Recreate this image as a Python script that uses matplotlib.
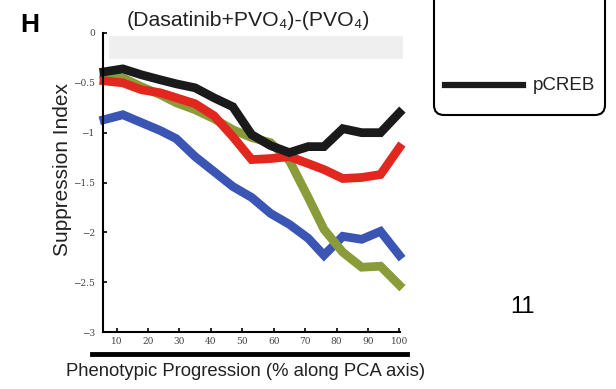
import numpy as np
import matplotlib.pyplot as plt
from matplotlib.lines import Line2D
from matplotlib.patches import FancyBboxPatch
from matplotlib.transforms import IdentityTransform

plt.rcParams['font.family'] = ['Liberation Sans', 'DejaVu Sans']

# positions along the PCA axis (%)
progress = [6, 12, 18, 24, 29, 35, 41, 47, 53, 59, 65, 71, 76, 82, 88, 94, 100]

# suppression index, one list per readout
blue = [-0.87, -0.82, -0.90, -0.98, -1.06, -1.24, -1.39, -1.54, -1.65,
        -1.81, -1.92, -2.06, -2.23, -2.04, -2.07, -1.99, -2.23]
green = [-0.42, -0.45, -0.54, -0.62, -0.70, -0.77, -0.86, -0.97, -1.05,
         -1.10, -1.28, -1.65, -1.97, -2.20, -2.35, -2.34, -2.53]
red = [-0.48, -0.50, -0.57, -0.60, -0.65, -0.71, -0.83, -1.04, -1.27,
       -1.26, -1.24, -1.31, -1.37, -1.46, -1.45, -1.42, -1.15]
black = [-0.39, -0.36, -0.42, -0.47, -0.51, -0.55, -0.65, -0.74, -1.02,
         -1.13, -1.20, -1.14, -1.14, -0.96, -1.00, -1.00, -0.80]

x_ticks = [10, 20, 30, 40, 50, 60, 70, 80, 90, 100]
y_ticks = [-3, -2.5, -2, -1.5, -1, -0.5, 0]
y_labels = ['\u22123', '\u22122.5', '\u22122', '\u22121.5', '\u22121', '\u22120.5', '0']

fig = plt.figure(figsize=(6.16, 3.89), dpi=100)
ax = fig.add_axes([103 / 616, 1 - 332 / 389, 297 / 616, 299 / 389])

# grey band near zero
ax.axhspan(-0.26, -0.035, xmin=0.02, xmax=1.01, color='#efefef', lw=0, clip_on=False)

ax.plot(progress, blue, color='#3b55b4', lw=6.3, solid_joinstyle='miter', clip_on=False)
ax.plot(progress, green, color='#8a9c3a', lw=6.3, solid_joinstyle='miter', clip_on=False)
ax.plot(progress, red, color='#e2271f', lw=6.3, solid_joinstyle='miter', clip_on=False)
ax.plot(progress, black, color='#1a1a1a', lw=6.3, solid_joinstyle='miter', clip_on=False)

ax.set_xlim(5.7, 100.2)
ax.set_ylim(-3, 0)
ax.set_xticks(x_ticks)
ax.set_yticks(y_ticks)
ax.set_yticklabels(y_labels)
ax.tick_params(direction='in', length=3, width=1.2, labelsize=6.5, labelcolor='#444444')
ax.tick_params(axis='y', pad=6)
for lab in ax.get_xticklabels() + ax.get_yticklabels():
    lab.set_family('serif')
ax.spines['top'].set_visible(False)
ax.spines['right'].set_visible(False)
ax.spines['left'].set_linewidth(1.5)
ax.spines['bottom'].set_linewidth(1.5)

# texts around the axes
fig.text(30 / 616, 1 - 25 / 389, 'H', fontsize=19, fontweight='bold', ha='center', va='center')
fig.text(248 / 616, 1 - 21 / 389, '(Dasatinib+PVO\u2084)-(PVO\u2084)', fontsize=15.3,
         ha='center', va='center', color='#222222')
fig.text(63 / 616, 1 - 170 / 389, 'Suppression Index', fontsize=15, rotation=90,
         ha='center', va='center', color='#222222')
fig.text(246 / 616, 1 - 372 / 389, 'Phenotypic Progression (% along PCA axis)', fontsize=13.3,
         ha='center', va='center', color='#222222')
fig.add_artist(Line2D([92 / 616, 407 / 616], [1 - 354 / 389] * 2, color='black', lw=3.5))

# legend box piece on the right
box = FancyBboxPatch((434, 274), 171, 140, boxstyle='round,pad=0,rounding_size=10',
                     transform=IdentityTransform(), fc='none', ec='black', lw=1.5)
fig.add_artist(box)
fig.add_artist(Line2D([445, 523], [304, 304], transform=IdentityTransform(), color='#1a1a1a', lw=4.5))
fig.text(533 / 616, 304 / 389, 'pCREB', fontsize=13.5, ha='left', va='center', color='#222222')

fig.text(523 / 616, 1 - 307 / 389, '11', fontsize=17, ha='center', va='center')

fig.savefig('out.png', dpi=100)
